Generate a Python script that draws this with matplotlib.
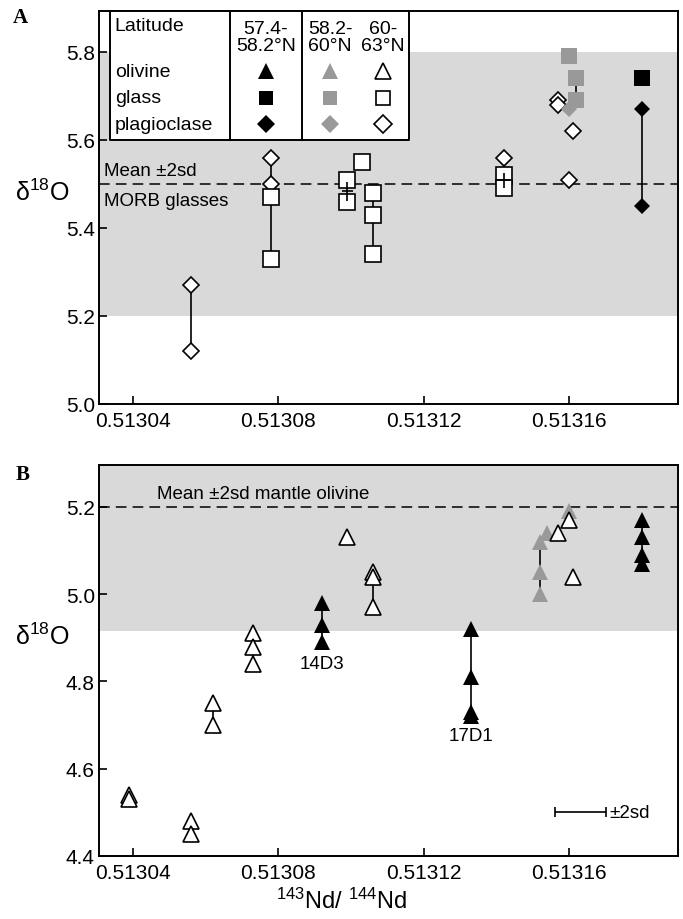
import matplotlib
matplotlib.use("Agg")
import matplotlib.pyplot as plt

plt.rcParams['font.family'] = ['Liberation Sans', 'DejaVu Sans']
plt.rcParams['mathtext.fontset'] = 'custom'
plt.rcParams['mathtext.rm'] = 'Liberation Sans'
plt.rcParams['mathtext.it'] = 'Liberation Sans:italic'

# colours
black = '#000000'
grey = '#999999'
band = '#d9d9d9'

# ---- panel A : olivine / glass / plagioclase d18O vs 143Nd/144Nd ----
a_glass_black_x = [0.51318]
a_glass_black_y = [5.74]
a_plag_black_x = [0.51318, 0.51318]
a_plag_black_y = [5.67, 5.45]

a_glass_grey_x = [0.51316, 0.513162, 0.513162]
a_glass_grey_y = [5.79, 5.74, 5.69]
a_plag_grey_x = [0.51316]
a_plag_grey_y = [5.67]

a_plag_open_x = [0.513056, 0.513056, 0.513078, 0.513078, 0.513142,
                 0.513157, 0.513157, 0.513161, 0.51316]
a_plag_open_y = [5.27, 5.12, 5.56, 5.50, 5.56, 5.69, 5.68, 5.62, 5.51]
a_glass_open_x = [0.513078, 0.513078, 0.513099, 0.513099, 0.513103,
                  0.513106, 0.513106, 0.513106, 0.513142, 0.513142]
a_glass_open_y = [5.47, 5.33, 5.51, 5.46, 5.55, 5.48, 5.43, 5.34, 5.52, 5.49]

a_tie_x = [0.513056, 0.513078, 0.513106, 0.513162, 0.51318]
a_tie_top = [5.27, 5.56, 5.48, 5.74, 5.67]
a_tie_bot = [5.12, 5.33, 5.34, 5.69, 5.45]

a_err_x = [0.513099, 0.513142]
a_err_y = [5.483, 5.508]
a_err_xe = [1.5e-6, 1.8e-6]
a_err_ye = [0.022, 0.017]

a_band = (5.2, 5.8)
a_mean = 5.5

# ---- panel B : olivine only ----
b_ol_black_x = [0.513092, 0.513092, 0.513092,
                0.513133, 0.513133, 0.513133, 0.513133,
                0.51318, 0.51318, 0.51318, 0.51318]
b_ol_black_y = [4.98, 4.93, 4.89, 4.92, 4.81, 4.73, 4.72, 5.17, 5.13, 5.09, 5.07]
b_ol_grey_x = [0.513152, 0.513152, 0.513152, 0.513154, 0.51316]
b_ol_grey_y = [5.12, 5.05, 5.00, 5.14, 5.19]
b_ol_open_x = [0.513039, 0.513039, 0.513056, 0.513056, 0.513062, 0.513062,
               0.513073, 0.513073, 0.513073, 0.513099, 0.513106, 0.513106,
               0.513106, 0.513157, 0.51316, 0.513161]
b_ol_open_y = [4.54, 4.53, 4.48, 4.45, 4.75, 4.70, 4.91, 4.88, 4.84, 5.13,
               5.05, 5.04, 4.97, 5.14, 5.17, 5.04]

b_tie_x = [0.513056, 0.513062, 0.513073, 0.513092, 0.513106, 0.513133, 0.513152, 0.51318]
b_tie_top = [4.48, 4.75, 4.91, 4.98, 5.05, 4.92, 5.12, 5.17]
b_tie_bot = [4.45, 4.70, 4.84, 4.89, 4.97, 4.72, 5.00, 5.07]

b_labels = ['14D3', '17D1']
b_label_x = [0.513092, 0.513133]
b_label_y = [4.84, 4.675]

b_sd_x, b_sd_y, b_sd_xe = 0.513163, 4.50, 0.000007

b_band_low = 4.915
b_mean = 5.2

xticks = [0.51304, 0.51308, 0.51312, 0.51316]
xlim = (0.5130307, 0.51319)

fig = plt.figure(figsize=(6.83, 9.2), dpi=100)
axA = fig.add_axes([0.145, 0.5598, 0.848, 0.4272])
axB = fig.add_axes([0.145, 0.0685, 0.848, 0.425])

open_kw = dict(mfc='white', mec='black', mew=1.2, ls='none')
fill_kw = dict(mew=0, ls='none')


def style(ax, ylim, yticks):
    ax.set_xlim(*xlim)
    ax.set_ylim(*ylim)
    ax.set_xticks(xticks)
    ax.set_xticklabels([f'{t:.5f}' for t in xticks])
    ax.set_yticks(yticks)
    ax.set_yticklabels([f'{t:.1f}' for t in yticks])
    ax.tick_params(direction='in', length=6, width=1.2, labelsize=15, pad=3)
    ax.tick_params(axis='x', pad=5)
    for s in ax.spines.values():
        s.set_linewidth(1.4)


# panel A
axA.axhspan(*a_band, color=band, lw=0, zorder=0)
axA.axhline(a_mean, color='black', lw=1.1, dashes=(7, 4), zorder=1)
axA.vlines(a_tie_x, a_tie_bot, a_tie_top, color='black', lw=1.2, zorder=2)
axA.errorbar(a_err_x, a_err_y, xerr=a_err_xe, yerr=a_err_ye, fmt='none',
             ecolor='black', elinewidth=1.2, capsize=0, zorder=4)
axA.plot(a_plag_open_x, a_plag_open_y, 'D', ms=8, zorder=3, **open_kw)
axA.plot(a_glass_open_x, a_glass_open_y, 's', ms=11, zorder=3, **open_kw)
axA.plot(a_glass_grey_x, a_glass_grey_y, 's', ms=11, color=grey, zorder=3, **fill_kw)
axA.plot(a_plag_grey_x, a_plag_grey_y, 'D', ms=8.5, color=grey, zorder=3, **fill_kw)
axA.plot(a_glass_black_x, a_glass_black_y, 's', ms=11, color=black, zorder=3, **fill_kw)
axA.plot(a_plag_black_x, a_plag_black_y, 'D', ms=8.5, color=black, zorder=3, **fill_kw)
style(axA, (5.0, 5.893), [5.0, 5.2, 5.4, 5.6, 5.8])

axA.text(0.009, 0.593, 'Mean ±2sd', transform=axA.transAxes, fontsize=13.5,
         ha='left', va='center')
axA.text(0.009, 0.517, 'MORB glasses', transform=axA.transAxes, fontsize=13.5,
         ha='left', va='center')

# legend table inside panel A
tx0, tx1 = 0.019, 0.535
col_edges = [0.226, 0.351]
ty0 = 0.672
axA.add_patch(plt.Rectangle((tx0, ty0), tx1 - tx0, 1 - ty0, transform=axA.transAxes,
                            facecolor='white', edgecolor='none', zorder=5))
axA.plot([tx0, tx1, tx1, tx0, tx0], [1, 1, ty0, ty0, 1], color='black', lw=1.4,
         transform=axA.transAxes, clip_on=False, zorder=6)
for cx in col_edges:
    axA.plot([cx, cx], [ty0, 1], color='black', lw=1.4, transform=axA.transAxes, zorder=6)

leg_cols = ['57.4-\n58.2°N', '58.2-\n60°N', '60-\n63°N']
leg_col_x = [0.288, 0.399, 0.490]
leg_rows = ['olivine', 'glass', 'plagioclase']
leg_row_y = [0.847, 0.779, 0.712]
leg_markers = ['^', 's', 'D']
leg_ms = [11, 9.5, 9]
leg_colors = [black, grey, 'white']

axA.text(0.027, 0.962, 'Latitude', transform=axA.transAxes, fontsize=14,
         ha='left', va='center', zorder=7)
for lab, cx in zip(leg_cols, leg_col_x):
    axA.text(cx, 0.933, lab, transform=axA.transAxes, fontsize=14, ha='center',
             va='center', linespacing=1.0, zorder=7)
for lab, ry in zip(leg_rows, leg_row_y):
    axA.text(0.027, ry, lab, transform=axA.transAxes, fontsize=14,
             ha='left', va='center', zorder=7)
for m, ms, ry in zip(leg_markers, leg_ms, leg_row_y):
    for c, cx in zip(leg_colors, leg_col_x):
        if c == 'white':
            axA.plot(cx, ry, m, ms=ms, transform=axA.transAxes, zorder=7, **open_kw)
        else:
            axA.plot(cx, ry, m, ms=ms, color=c, transform=axA.transAxes, zorder=7, **fill_kw)

# panel B
axB.axhspan(b_band_low, 5.4, color=band, lw=0, zorder=0)
axB.axhline(b_mean, color='black', lw=1.1, dashes=(7, 4), zorder=1)
axB.vlines(b_tie_x, b_tie_bot, b_tie_top, color='black', lw=1.2, zorder=2)
axB.plot(b_ol_grey_x, b_ol_grey_y, '^', ms=12, color=grey, zorder=3, **fill_kw)
axB.plot(b_ol_open_x, b_ol_open_y, '^', ms=11.5, zorder=3, **open_kw)
axB.plot(b_ol_black_x, b_ol_black_y, '^', ms=12, color=black, zorder=3, **fill_kw)
for lab, lx, ly in zip(b_labels, b_label_x, b_label_y):
    axB.text(lx, ly, lab, fontsize=13.5, ha='center', va='center')
axB.errorbar([b_sd_x], [b_sd_y], xerr=[b_sd_xe], fmt='none', ecolor='black',
             elinewidth=1.2, capsize=3.5, capthick=1.2)
axB.text(b_sd_x + b_sd_xe + 1.2e-6, b_sd_y, '±2sd', fontsize=13.5,
         ha='left', va='center')
axB.text(0.100, 0.926, 'Mean ±2sd mantle olivine', transform=axB.transAxes,
         fontsize=13.5, ha='left', va='center')
style(axB, (4.4, 5.296), [4.4, 4.6, 4.8, 5.0, 5.2])

axA.text(-0.145, 0.54, r'δ$^{18}$O', transform=axA.transAxes, fontsize=18,
         ha='left', va='center')
axB.text(-0.145, 0.562, r'δ$^{18}$O', transform=axB.transAxes, fontsize=18,
         ha='left', va='center')

fig.text(0.5, 0.02, r'$^{143}$Nd/ $^{144}$Nd', fontsize=17, ha='center', va='center')
fig.text(0.03, 0.98, 'A', fontsize=15, fontweight='bold', family='Liberation Serif',
         ha='center', va='center')
fig.text(0.033, 0.4835, 'B', fontsize=15, fontweight='bold', family='Liberation Serif',
         ha='center', va='center')

fig.savefig('out.png', dpi=100)
